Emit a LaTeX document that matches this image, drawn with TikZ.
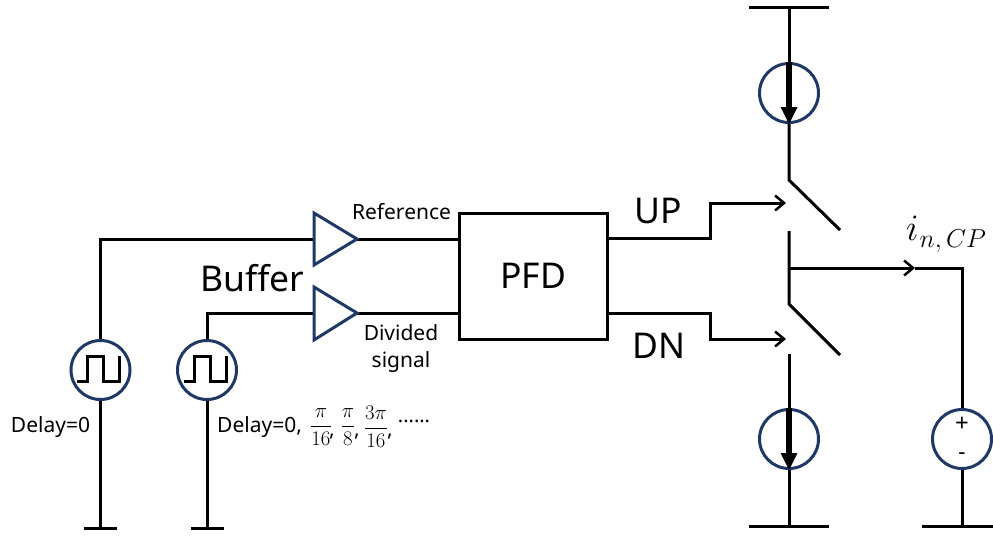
\documentclass[tikz,border=0pt]{standalone}
\usepackage{fontspec}
\setmainfont{Noto Sans}
\usetikzlibrary{arrows.meta}
\definecolor{navy}{HTML}{1F3864}
\tikzset{
  x=1pt,y=-1pt,
  wire/.style={draw=black,line width=3pt,line join=miter},
  openarrow/.style={-{Straight Barb[length=9pt,width=15pt,line width=2.5pt]}},
  srcring/.style={circle,draw=navy,line width=3pt,minimum size=59pt,inner sep=0pt,fill=white},
  bufshape/.style={draw=navy,line width=3pt,line join=miter,fill=white},
  block/.style={draw=black,line width=3pt,minimum width=148pt,minimum height=126pt,inner sep=0pt},
  big/.style={font=\fontsize{35.5}{42}\selectfont,inner sep=0pt},
  small/.style={font=\fontsize{21}{27}\selectfont,inner sep=0pt,align=center},
  fraction/.style={inner sep=0pt,font=\fontsize{20}{24}\selectfont},
  pulse/.style={line width=3pt,draw=black,line join=miter},
  heavy/.style={line width=5.5pt,draw=black,-{Triangle[length=17pt,width=17pt,line width=0pt]}},
}
\begin{document}
\begin{tikzpicture}
\useasboundingbox (0,0) rectangle (993,536);
\coordinate (gA) at (100.5,528);
\coordinate (gB) at (207,528);
\coordinate (gAl) at (84,528); \coordinate (gAr) at (117,528);
\coordinate (gBl) at (191,528); \coordinate (gBr) at (224,528);
\coordinate (cA) at (100.5,239);
\coordinate (cB) at (207,313);
\coordinate (b1i) at (314,239); \coordinate (b1o) at (357,239);
\coordinate (b2i) at (314,313); \coordinate (b2o) at (357,313);
\coordinate (pi1) at (459,239); \coordinate (pi2) at (459,313);
\coordinate (po1) at (607,238); \coordinate (po2) at (607,313);
\coordinate (up1) at (710,238); \coordinate (up2) at (710,203); \coordinate (up3) at (786,203);
\coordinate (dn1) at (710,313); \coordinate (dn2) at (710,339); \coordinate (dn3) at (786,339);
\coordinate (vddT) at (789,7); \coordinate (vddL) at (749,7); \coordinate (vddR) at (829,7);
\coordinate (s1a) at (789,180); \coordinate (s1b) at (840,230);
\coordinate (s2t) at (789,231); \coordinate (s2m) at (789,304); \coordinate (s2b) at (840,355);
\coordinate (s3t) at (789,354);
\coordinate (tap) at (789,268);
\coordinate (amark) at (915,268); \coordinate (corner) at (962,268);
\coordinate (gndC) at (789,526); \coordinate (gndCl) at (749,526); \coordinate (gndCr) at (829,526);
\coordinate (gndV) at (962,526); \coordinate (gndVl) at (922,526); \coordinate (gndVr) at (993,526);
\node[srcring] (srcA) at (100.5,370) {};
\node[srcring] (srcB) at (207,370) {};
\node[srcring] (isrcT) at (789,93) {};
\node[srcring] (isrcB) at (789,439) {};
\node[srcring] (vsrc) at (962,439) {};
\draw[wire] (srcA) -- (cA) -- (b1i);
\draw[wire] (srcB) -- (cB) -- (b2i);
\draw[wire] (srcA) -- (gA);
\draw[wire] (srcB) -- (gB);
\draw[wire] (gAl) -- (gAr);
\draw[wire] (gBl) -- (gBr);
\draw[wire] (b1o) -- (pi1);
\draw[wire] (b2o) -- (pi2);
\draw[bufshape] (314,213) -- (b1o) -- (314,265) -- cycle;
\draw[bufshape] (314,287) -- (b2o) -- (314,340) -- cycle;
\node[block,big] (pfd) at (533,276) {PFD};
\draw[wire,openarrow] (po1) -- (up1) -- (up2) -- (up3);
\draw[wire,openarrow] (po2) -- (dn1) -- (dn2) -- (dn3);
\draw[wire] (vddL) -- (vddR);
\draw[wire] (vddT) -- (isrcT);
\draw[wire] (isrcT) -- (s1a) -- (s1b);
\draw[wire] (s2t) -- (s2m) -- (s2b);
\draw[wire] (s3t) -- (isrcB);
\draw[wire] (isrcB) -- (gndC);
\draw[wire] (gndCl) -- (gndCr);
\draw[wire,openarrow] (tap) -- (amark);
\draw[wire] (amark) -- (corner) -- (vsrc);
\draw[wire] (vsrc) -- (gndV);
\draw[wire] (gndVl) -- (gndVr);
\draw[heavy] (isrcT.north) -- (isrcT.south);
\draw[heavy] (isrcB.north) -- (isrcB.south);
\draw[pulse] (77,381) -- (87,381) -- (87,356) -- (103,356) -- (103,381) -- (119,381) -- (119,356);
\draw[pulse] (184,381) -- (194,381) -- (194,356) -- (210,356) -- (210,381) -- (226,381) -- (226,356);
\node[small] (lref) at (401.5,212) {Reference};
\node[small] (ldiv) at (401,349) {Divided\\signal};
\node[big] (lbuf) at (252.5,278) {Buffer};
\node[big] (lup) at (658,211) {UP};
\node[big] (ldn) at (659,346) {DN};
\node[small] (ld0) at (50.5,427) {Delay=0};
\node[small,anchor=west] (ld1) at (217,427) {Delay=0,};
\node[fraction] (f1) at (321,427) {$\displaystyle\frac{\pi}{16}$};
\node[fraction] (f2) at (348,427) {$\displaystyle\frac{\pi}{8}$};
\node[fraction] (f3) at (376,427) {$\displaystyle\frac{3\pi}{16}$};
\node[small] at (332,437) {,};
\node[small] at (357,437) {,};
\node[small] at (390,437) {,};
\node[inner sep=0pt,font=\fontsize{20}{24}\selectfont] (dots) at (414,421) {......};
\node[inner sep=0pt,anchor=base west,font=\fontsize{24.88}{30}\selectfont] (lin) at (906,240) {\scalebox{1.5}{$i$}\hspace{1pt}\raisebox{-7pt}{\scalebox{1.04}{$n,CP$}}};
\node[inner sep=0pt,font=\fontsize{24}{24}\selectfont] (lp) at (962,424) {+};
\node[inner sep=0pt,font=\fontsize{22}{22}\selectfont] (lm) at (962,456) {-};
\end{tikzpicture}
\end{document}
